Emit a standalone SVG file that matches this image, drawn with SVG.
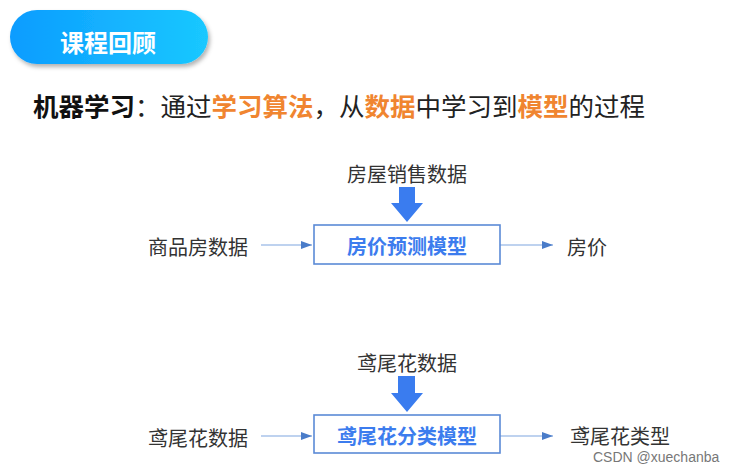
<svg xmlns="http://www.w3.org/2000/svg" width="732" height="469" viewBox="0 0 732 469">
<style>
text{font-family:"Noto Sans CJK SC","Noto Sans",sans-serif;dominant-baseline:central}
.lbl{font-size:20px;fill:#333}
.box{fill:#fff;stroke:#5b8ad6;stroke-width:1.6}
.bt{font-size:20px;font-weight:bold;fill:#3c7cee;text-anchor:middle}
.thin{stroke:#a9c3ea;stroke-width:1.5;fill:none}
.big{fill:#3a7cef}
.org{fill:#f08530;font-weight:bold}
</style>
<defs>
<linearGradient id="pill" x1="0" y1="0" x2="1" y2="0">
<stop offset="0" stop-color="#0c9cff"/>
<stop offset="1" stop-color="#1ac8ff"/>
</linearGradient>
<filter id="sh" x="-10%" y="-20%" width="130%" height="160%">
<feDropShadow dx="2" dy="3" stdDeviation="2" flood-color="#000" flood-opacity="0.3"/>
</filter>
<marker id="ah" markerWidth="12" markerHeight="10" refX="11" refY="4" orient="auto" markerUnits="userSpaceOnUse">
<path d="M0,0 L11,4 L0,8 Z" fill="#4a7cc9"/>
</marker>
</defs>
<rect width="732" height="469" fill="#fff"/>
<g id="title">
<rect x="10" y="10" width="198" height="54" rx="27" fill="url(#pill)" filter="url(#sh)"/>
<text x="108" y="41" font-size="24" font-weight="bold" fill="#fff" text-anchor="middle">课程回顾</text>
</g>
<g id="definition">
<text x="33" y="104" font-size="25.5" fill="#222"><tspan font-weight="bold" fill="#111">机器学习</tspan>：通过<tspan class="org">学习算法</tspan>，从<tspan class="org">数据</tspan>中学习到<tspan class="org">模型</tspan>的过程</text>
</g>
<g id="connectors">
<line class="thin" x1="261" y1="245" x2="312" y2="245" marker-end="url(#ah)"/>
<line class="thin" x1="500" y1="245" x2="553" y2="245" marker-end="url(#ah)"/>
<line class="thin" x1="261" y1="436" x2="312" y2="436" marker-end="url(#ah)"/>
<line class="thin" x1="500" y1="436" x2="553" y2="436" marker-end="url(#ah)"/>
<path class="big" d="M399,187 H415 V203 H423 L407,222 L391,203 H399 Z"/>
<path class="big" d="M398,376 H415 V393 H423 L407,412 L391,393 H398 Z"/>
</g>
<g id="house-sales">
<text class="lbl" x="407" y="173" text-anchor="middle">房屋销售数据</text>
</g>
<g id="house-input">
<text class="lbl" x="148" y="246">商品房数据</text>
</g>
<g id="house-model">
<rect class="box" x="314" y="225" width="186" height="39"/>
<text class="bt" x="407" y="245">房价预测模型</text>
</g>
<g id="house-output">
<text class="lbl" x="567" y="246">房价</text>
</g>
<g id="iris-data">
<text class="lbl" x="407" y="362" text-anchor="middle">鸢尾花数据</text>
</g>
<g id="iris-input">
<text class="lbl" x="148" y="437">鸢尾花数据</text>
</g>
<g id="iris-model">
<rect class="box" x="314" y="415" width="186" height="38"/>
<text class="bt" x="407" y="435">鸢尾花分类模型</text>
</g>
<g id="iris-output">
<text class="lbl" x="570" y="435">鸢尾花类型</text>
</g>
<text x="593" y="457" font-size="14" fill="#777" style="font-family:'Liberation Sans',sans-serif">CSDN @xuechanba</text>
</svg>
